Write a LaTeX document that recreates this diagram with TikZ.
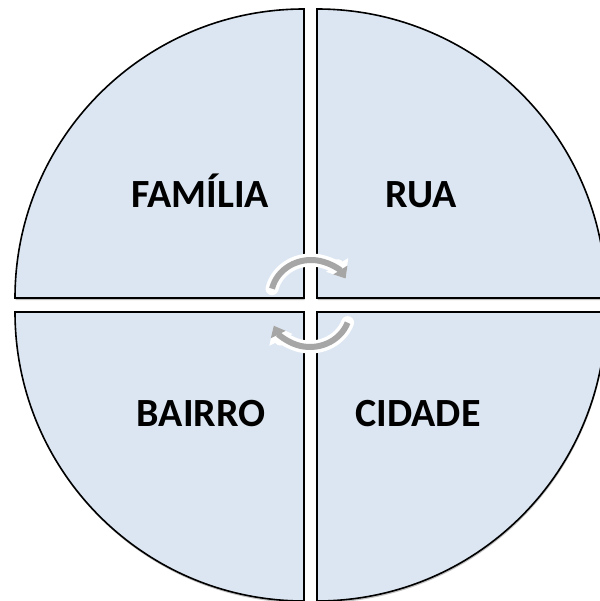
\documentclass[tikz,border=0pt]{standalone}
\usepackage{fontspec}
\setmainfont{Carlito}
\usetikzlibrary{arrows.meta,shadows}
\definecolor{quadfill}{HTML}{DCE6F2}
\definecolor{arrowgray}{HTML}{A6A6A6}
\tikzset{
  quad/.style={draw=black, line width=1.6pt, fill=quadfill, line join=miter,
    drop shadow={shadow xshift=0.5pt, shadow yshift=-2pt, opacity=0.35, fill=black!70}},
  label/.style={font=\bfseries\fontsize{40}{40}\selectfont, anchor=base, inner sep=0pt},
  arrowwhite/.style={draw=white, line width=13pt, line cap=round,
    -{Triangle[width=25pt,length=16pt]}},
  arrowgrey/.style={draw=arrowgray, line width=6pt,
    -{Triangle[width=16pt,length=10pt]}}
}
\begin{document}
\begin{tikzpicture}[x=1pt,y=-1pt]
\useasboundingbox (0,0) rectangle (599,601);
% quadrants
\path[quad] (304,298) -- (304,9) arc[start angle=270, end angle=180, radius=289] -- cycle;
\path[quad] (317,298) -- (317,9) arc[start angle=270, end angle=360, radius=289] -- cycle;
\path[quad] (304,312) -- (15,312) arc[start angle=180, end angle=90, radius=289] -- cycle;
\path[quad] (317,312) -- (317,601) arc[start angle=90, end angle=0, radius=289] -- cycle;
% labels
\node[label] (familia) at (200,208) {FAMÍLIA};
\node[label] (rua) at (421,208) {RUA};
\node[label] (bairro) at (201,426.5) {BAIRRO};
\node[label] (cidade) at (418,426.5) {CIDADE};
% circular arrows
\coordinate (ca) at (311,297);
\coordinate (cb) at (310,310);
\draw[arrowwhite] (ca) ++(193:40 and 37) arc[start angle=193, end angle=330, x radius=40, y radius=37];
\draw[arrowgrey] (ca) ++(193:40 and 37) arc[start angle=193, end angle=330, x radius=40, y radius=37];
\draw[arrowwhite] (cb) ++(20:40 and 37) arc[start angle=20, end angle=155, x radius=40, y radius=37];
\draw[arrowgrey] (cb) ++(20:40 and 37) arc[start angle=20, end angle=155, x radius=40, y radius=37];
\end{tikzpicture}
\end{document}
